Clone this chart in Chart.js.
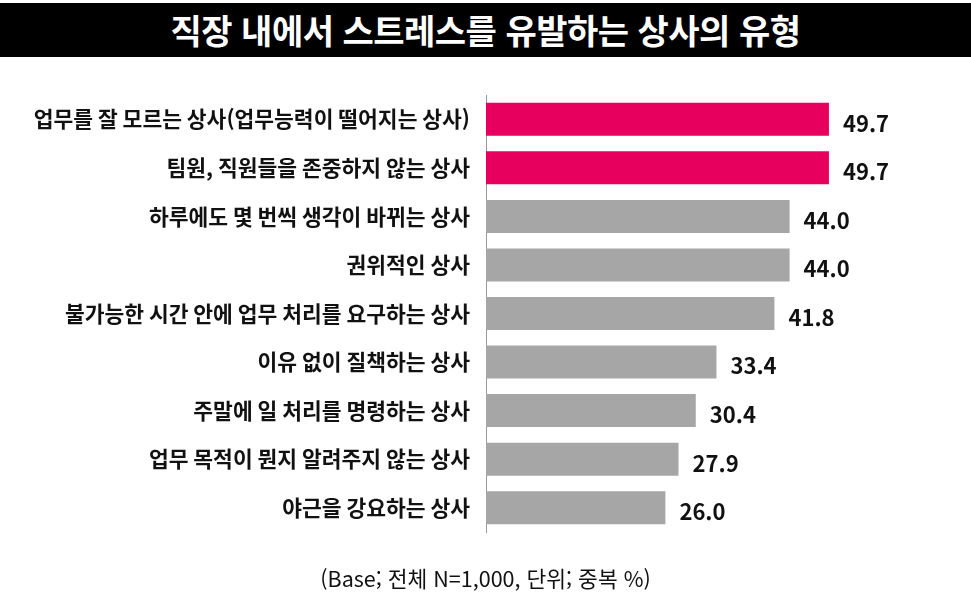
<!DOCTYPE html>
<html lang="ko">
<head>
<meta charset="utf-8">
<script src="https://cdn.jsdelivr.net/npm/chart.js@4/dist/chart.umd.min.js"></script>
<style>
	body { margin: 0; background: #fff; }
	#wrap { position: relative; width: 971px; height: 605px; overflow: hidden; }
	#banner {
		position: absolute; left: 0; top: 3px; width: 971px; height: 54px;
		background: #000; color: #fff; text-align: center;
		font: bold 34px 'Noto Sans CJK KR', sans-serif; line-height: 54px;
		letter-spacing: -0.5px;
	}
	#foot {
		position: absolute; left: 0; top: 562px; width: 971px; text-align: center;
		font: 21.5px 'Noto Sans CJK KR', sans-serif; color: #111;
	}
	canvas { position: absolute; left: 0; top: 0; }
</style>
</head>
<body>
<div id="wrap">
	<div id="banner">직장 내에서 스트레스를 유발하는 상사의 유형</div>
	<canvas id="bossChart" width="971" height="605"></canvas>
	<div id="foot">(Base; 전체 N=1,000, 단위; 중복 %)</div>
</div>
<script>
const labels = [
	'업무를 잘 모르는 상사(업무능력이 떨어지는 상사)',
	'팀원, 직원들을 존중하지 않는 상사',
	'하루에도 몇 번씩 생각이 바뀌는 상사',
	'권위적인 상사',
	'불가능한 시간 안에 업무 처리를 요구하는 상사',
	'이유 없이 질책하는 상사',
	'주말에 일 처리를 명령하는 상사',
	'업무 목적이 뭔지 알려주지 않는 상사',
	'야근을 강요하는 상사',
];
const values = [49.7, 49.7, 44.0, 44.0, 41.8, 33.4, 30.4, 27.9, 26.0];
const highlight = [true, true, false, false, false, false, false, false, false];

const pink = '#e8005e';
const grey = '#a6a6a6';

// value labels right of each bar
const valueLabels = {
	id: 'valueLabels',
	afterDatasetsDraw(chart) {
		const ctx = chart.ctx;
		const meta = chart.getDatasetMeta(0);
		ctx.save();
		ctx.font = "bold 22px 'Noto Sans CJK KR', sans-serif";
		ctx.fillStyle = '#111';
		ctx.textAlign = 'left';
		ctx.textBaseline = 'middle';
		meta.data.forEach((bar, i) => {
			ctx.fillText(values[i].toFixed(1), bar.x + 14, bar.y + 4);
		});
		ctx.restore();
	},
};

new Chart(document.getElementById('bossChart'), {
	type: 'bar',
	data: {
		labels: labels,
		datasets: [
			{
				data: values,
				backgroundColor: highlight.map((h) => (h ? pink : grey)),
				barPercentage: 1,
				categoryPercentage: 0.68,
			},
		],
	},
	options: {
		indexAxis: 'y',
		responsive: false,
		animation: false,
		layout: {
			padding: { top: 95, bottom: 73, right: 71, left: 0 },
		},
		plugins: {
			legend: { display: false },
			tooltip: { enabled: false },
		},
		scales: {
			x: {
				display: false,
				min: 0,
				max: 60,
			},
			y: {
				afterFit: (s) => {
					s.width = 486;
				},
				grid: { display: false, drawTicks: false },
				border: { display: true, color: '#9a9a9a', width: 1 },
				ticks: {
					padding: 16,
					color: '#111',
					font: { family: "'Noto Sans CJK KR', sans-serif", size: 21.5, weight: 'bold' },
				},
			},
		},
	},
	plugins: [valueLabels],
});
</script>
</body>
</html>
